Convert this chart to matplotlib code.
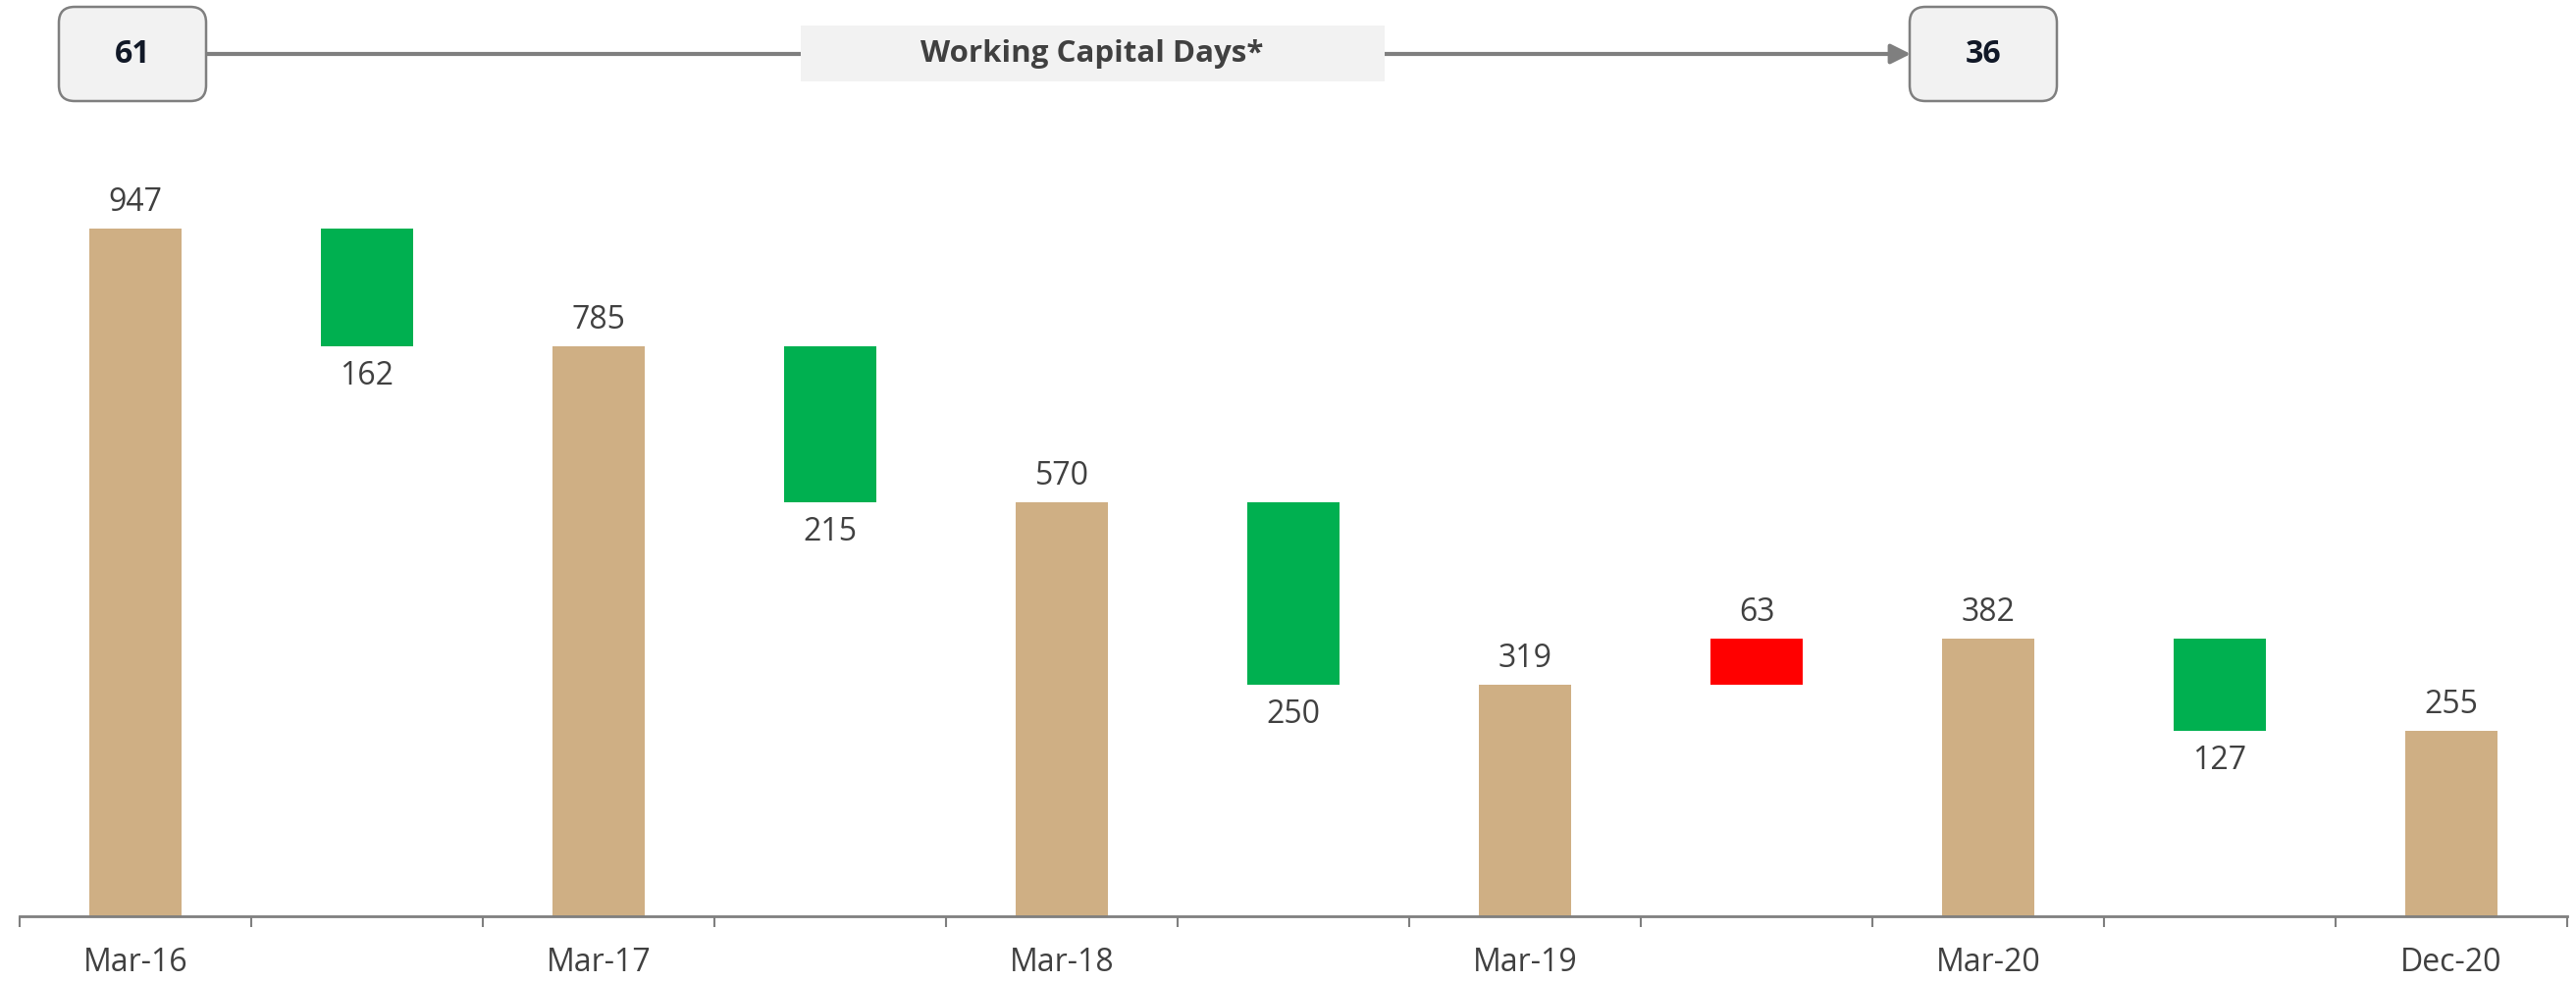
import matplotlib.pyplot as plt
from matplotlib.patches import FancyBboxPatch, Rectangle, FancyArrowPatch

plt.rcParams["font.family"] = ["Open Sans", "DejaVu Sans"]

# waterfall data
period_labels = ["Mar-16", "Mar-17", "Mar-18", "Mar-19", "Mar-20", "Dec-20"]
totals = [947, 785, 570, 319, 382, 255]
changes = [-162, -215, -250, 63, -127]

# header annotation
wc_days_start = 61
wc_days_end = 36
header_title = "Working Capital Days*"

TAN = "#cfaf84"
GREEN = "#00b050"
RED = "#ff0000"
GREY = "#7f7f7f"
TEXT = "#404040"
BOX_TEXT = "#111827"


def main() -> None:
    fig = plt.figure(figsize=(26.25, 10), dpi=100)

    ax = fig.add_axes([20 / 2625, 0.066, 2596 / 2625, 0.74])
    ax.set_xlim(-0.5, 2 * len(totals) - 1.5)
    ax.set_ylim(0, 1000)

    width = 0.4
    for i, total in enumerate(totals):
        x = 2 * i
        ax.bar(x, total, width=width, color=TAN, zorder=2)
        ax.annotate(str(total), (x, total), xytext=(0, 19), textcoords="offset points",
                    ha="center", va="center", fontsize=23, color=TEXT)

    for i, change in enumerate(changes):
        x = 2 * i + 1
        start = totals[i]
        end = totals[i + 1]
        low, high = min(start, end), max(start, end)
        ax.bar(x, high - low, bottom=low, width=width,
               color=GREEN if change < 0 else RED, zorder=2)
        if change < 0:
            ax.annotate(str(abs(change)), (x, low), xytext=(0, -22),
                        textcoords="offset points", ha="center", va="center",
                        fontsize=23, color=TEXT)
        else:
            ax.annotate(str(abs(change)), (x, high), xytext=(0, 19),
                        textcoords="offset points", ha="center", va="center",
                        fontsize=23, color=TEXT)

    for side in ["left", "right", "top"]:
        ax.spines[side].set_visible(False)
    ax.spines["bottom"].set_color(GREY)
    ax.spines["bottom"].set_linewidth(2)
    ax.set_yticks([])

    n = 2 * len(totals) - 1
    ax.set_xticks([2 * i for i in range(len(totals))])
    ax.set_xticklabels(period_labels, fontsize=23, color=TEXT)
    ax.tick_params(axis="x", which="major", length=0, pad=22)
    ax.set_xticks([k - 0.5 for k in range(n + 1)], minor=True)
    ax.tick_params(axis="x", which="minor", length=8, width=1.5, color=GREY)

    # header drawn in pixel coordinates
    top = fig.add_axes([0, 0, 1, 1], zorder=3)
    top.set_xlim(0, 2625)
    top.set_ylim(1000, 0)
    top.axis("off")
    top.patch.set_alpha(0)

    arrow = FancyArrowPatch((210, 55), (1947, 55), arrowstyle="-|>,head_length=12,head_width=6",
                            color=GREY, lw=3, shrinkA=0, shrinkB=0, mutation_scale=1)
    top.add_patch(arrow)

    for x0, value in [(60, wc_days_start), (1946, wc_days_end)]:
        box = FancyBboxPatch((x0, 7), 150, 96, boxstyle="round,pad=0,rounding_size=16",
                             facecolor="#f2f2f2", edgecolor=GREY, lw=1.8, zorder=4)
        top.add_patch(box)
        top.text(x0 + 75, 56, str(value), ha="center", va="center", fontsize=23,
                 fontweight="bold", color=BOX_TEXT, zorder=5)

    top.add_patch(Rectangle((816, 26), 595, 57, facecolor="#f2f2f2", edgecolor="none", zorder=4))
    top.text(1113, 55, header_title, ha="center", va="center", fontsize=22.5,
             fontweight="bold", color=TEXT, zorder=5)

    fig.savefig("out.png", dpi=100)
    plt.close(fig)


if __name__ == "__main__":
    main()
